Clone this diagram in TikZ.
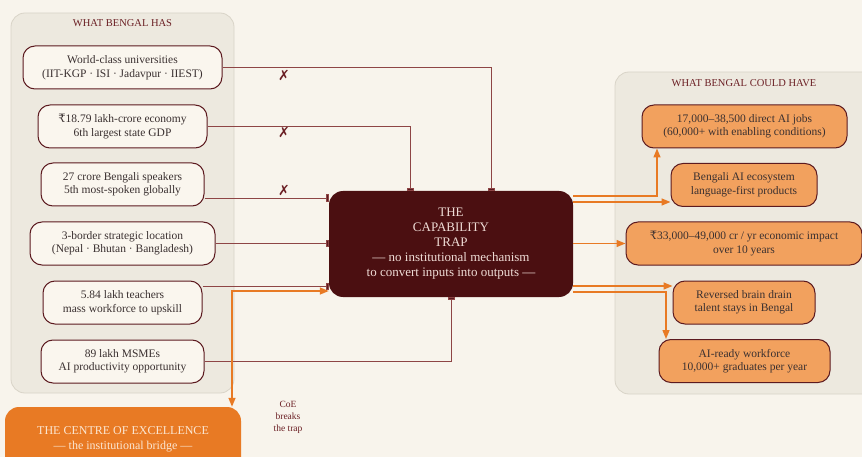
\documentclass[tikz,border=0pt]{standalone}
\usepackage{fontspec}
\setmainfont{Liberation Serif}
\newfontfamily\symfont{DejaVu Sans}
\newfontfamily\rupee{DejaVu Serif}
\usetikzlibrary{arrows.meta}
\definecolor{bg}{HTML}{F8F4EC}
\definecolor{panelfill}{HTML}{EDE9DF}
\definecolor{panelline}{HTML}{D9D4C8}
\definecolor{leftfill}{HTML}{FAF6EE}
\definecolor{boxline}{HTML}{5C1A1F}
\definecolor{linkred}{HTML}{8E4545}
\definecolor{trapfill}{HTML}{4B0F11}
\definecolor{traptext}{HTML}{EFDCD6}
\definecolor{orangeline}{HTML}{E87A24}
\definecolor{rightfill}{HTML}{F2A15E}
\definecolor{coefill}{HTML}{E87A24}
\definecolor{coetext}{HTML}{FBE6D2}
\definecolor{titlered}{HTML}{6B1F24}
\definecolor{txt}{HTML}{3A3030}
\begin{document}
\begin{tikzpicture}[x=1pt,y=-1pt,
  panel/.style={draw=panelline, line width=0.8pt, fill=panelfill, rounded corners=14pt},
  paneltitle/.style={text=titlered, font=\fontsize{10.5}{12}\selectfont},
  inbox/.style={draw=boxline, line width=1pt, fill=leftfill, rounded corners=12pt, align=center,
    font=\fontsize{11.5}{13.5}\selectfont, text=txt, inner sep=0pt, minimum height=43pt},
  outbox/.style={inbox, fill=rightfill},
  trapbox/.style={fill=trapfill, rounded corners=14pt, align=center, text=traptext,
    font=\fontsize{13}{15}\selectfont, inner sep=0pt, minimum width=244pt, minimum height=106pt},
  coebox/.style={fill=coefill, rounded corners=14pt, align=center, text=coetext,
    font=\fontsize{12}{15}\selectfont, inner sep=0pt, minimum width=236pt, minimum height=64pt},
  link/.style={draw=linkred, line width=0.9pt, -{Rectangle[length=3pt,width=7pt,fill=boxline]}},
  olink/.style={draw=orangeline, line width=1.4pt, -{Triangle[length=9pt,width=7pt]}},
  cross/.style={text=titlered, font=\symfont\fontsize{14}{14}\selectfont},
  note/.style={text=titlered, align=center, font=\fontsize{9.5}{12}\selectfont}
]
\fill[bg] (0,0) rectangle (862,457);
\useasboundingbox (0,0) rectangle (862,457);
\clip (0,0) rectangle (862,457);

% panels
\draw[panel] (11,13) rectangle (234,393);
\node[paneltitle] (lt) at (122.5,23) {WHAT BENGAL HAS};
\draw[panel] (615,72) rectangle (880,394);
\node[paneltitle] (rt) at (744,83) {WHAT BENGAL COULD HAVE};

% left boxes
\node[inbox, minimum width=199pt] (h1) at (122.5,67.5) {World-class universities\\(IIT-KGP · ISI · Jadavpur · IIEST)};
\node[inbox, minimum width=169pt] (h2) at (122.5,126.5) {{\rupee ₹}18.79 lakh-crore economy\\6th largest state GDP};
\node[inbox, minimum width=163pt] (h3) at (122.5,184.5) {27 crore Bengali speakers\\5th most-spoken globally};
\node[inbox, minimum width=185pt] (h4) at (122.5,243.5) {3-border strategic location\\(Nepal · Bhutan · Bangladesh)};
\node[inbox, minimum width=159pt] (h5) at (122.5,302.5) {5.84 lakh teachers\\mass workforce to upskill};
\node[inbox, minimum width=163pt] (h6) at (122.5,361.5) {89 lakh MSMEs\\AI productivity opportunity};

% trap
\node[trapbox] (trap) at (451,244) {THE\\CAPABILITY\\TRAP\\— no institutional mechanism\\to convert inputs into outputs —};

% right boxes
\node[outbox, minimum width=205pt] (o1) at (744.5,126.5) {17,000–38,500 direct AI jobs\\(60,000+ with enabling conditions)};
\node[outbox, minimum width=146pt] (o2) at (744,185) {Bengali AI ecosystem\\language-first products};
\node[outbox, minimum width=236pt] (o3) at (744,243.5) {{\rupee ₹}33,000–49,000 cr / yr economic impact\\over 10 years};
\node[outbox, minimum width=142pt] (o4) at (744,302.5) {Reversed brain drain\\talent stays in Bengal};
\node[outbox, minimum width=171pt] (o5) at (744.5,361) {AI-ready workforce\\10,000+ graduates per year};

% CoE
\node[coebox] (coe) at (123,439) {THE CENTRE OF EXCELLENCE\\— the institutional bridge —};
\node[note] (coenote) at (288,417) {CoE\\breaks\\the trap};

% input links
\draw[link] (h1.east) -| ([xshift=40pt]trap.north);
\draw[link] (h2.east) -| ([xshift=-41pt]trap.north);
\draw[link] (h3.east |- 0,198) -- (trap.west |- 0,198);
\draw[link] (h4.east) -- (trap.west |- h4.east);
\draw[link] (h5.east |- 0,286) -- (trap.west |- 0,286);
\draw[link] (h6.east) -| (trap.south |- 0,297);

% crosses
\node[cross] (x1) at (284,75) {✗};
\node[cross] (x2) at (284,132) {✗};
\node[cross] (x3) at (284,190) {✗};

% CoE bridge
\coordinate (bend) at (232,291);
\draw[olink, {Triangle[length=9pt,width=7pt]}-{Triangle[length=9pt,width=7pt]}] (trap.west |- bend) -- (bend) -- (coe.north -| bend);

% output links
\draw[olink] (trap.east |- 0,196) -| (o1.south -| 657,0);
\draw[olink] (trap.east |- 0,202) -- (o2.west |- 0,202);
\draw[olink] (trap.east |- o3.west) -- (o3.west);
\draw[olink] (trap.east |- 0,286) -- (o4.west |- 0,286);
\draw[olink] (trap.east |- 0,292) -| (o5.north -| 666,0);
\end{tikzpicture}
\end{document}
